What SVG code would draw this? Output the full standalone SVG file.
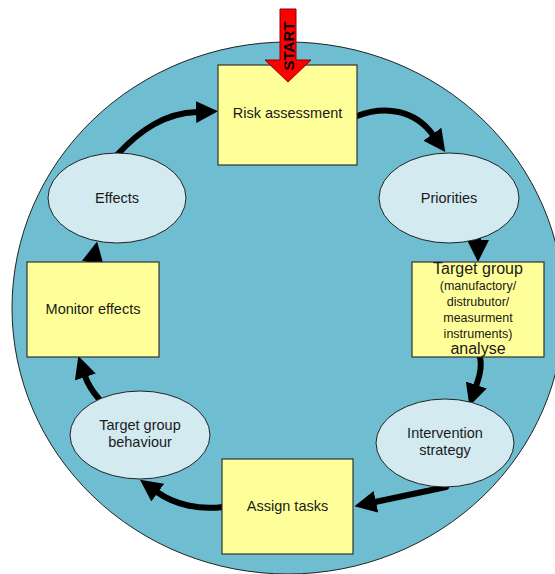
<svg xmlns="http://www.w3.org/2000/svg" width="555" height="574" viewBox="0 0 555 574">
<defs>
<style>
.bg{fill:#6FBDD1;stroke:#222;stroke-width:1}
.box{fill:#FFFF99;stroke:#333;stroke-width:1.2}
.ell{fill:#D2EAF0;stroke:#222;stroke-width:1}
.t{font-family:"Liberation Sans",Arial,sans-serif;font-size:14.5px;fill:#1a1a1a;text-anchor:middle}
.s{font-size:12.5px}
.b{font-size:16px}
.c{fill:none;stroke:#000;stroke-width:6;stroke-linecap:round}
</style>
<marker id="ah" markerUnits="userSpaceOnUse" viewBox="0 0 22 22" markerWidth="22" markerHeight="22" refX="1" refY="11" orient="auto">
<path d="M0,0 L22,11 L0,22 z" fill="#000"/>
</marker>
</defs>
<rect width="555" height="574" fill="#fff"/>
<ellipse class="bg" cx="288" cy="308" rx="276" ry="266"/>

<g id="connectors">
<path class="c" marker-end="url(#ah)" d="M117,155 C140,130 165,113 197,112"/>
<path class="c" marker-end="url(#ah)" d="M357,116 C385,105 415,110 433,135"/>
<path class="c" marker-end="url(#ah)" d="M478,236 L478,241"/>
<path class="c" marker-end="url(#ah)" d="M480,357 C483,370 478,380 476,386"/>
<path class="c" marker-end="url(#ah)" d="M446,487 L375,502"/>
<path class="c" marker-end="url(#ah)" d="M223,507 C200,510 175,505 157,492"/>
<path class="c" marker-end="url(#ah)" d="M99,399 C93,392 88,385 85,376"/>
<path class="c" marker-end="url(#ah)" d="M92,267 L93,262"/>
</g>

<g id="risk">
<rect class="box" x="218" y="65" width="139" height="100"/>
<text class="t" x="287.5" y="118">Risk assessment</text>
</g>

<g id="start">
<path d="M280,9 L296,9 L296,60 L311,60 L288,82 L265,60 L280,60 z" fill="#FF0000" stroke="#8B0000" stroke-width="1"/>
<text x="294" y="46" transform="rotate(-90 294 46)" style="font-family:'Liberation Sans',Arial,sans-serif;font-size:15px;font-weight:bold;fill:#000;text-anchor:middle">START</text>
</g>

<g id="priorities">
<ellipse class="ell" cx="449" cy="198" rx="70" ry="45"/>
<text class="t" x="449" y="203">Priorities</text>
</g>

<g id="targetgroup">
<rect class="box" x="412" y="262" width="132" height="95"/>
<text class="t b" x="478" y="274">Target group</text>
<text class="t s" x="478" y="290">(manufactory/</text>
<text class="t s" x="478" y="306">distrubutor/</text>
<text class="t s" x="478" y="322">measurment</text>
<text class="t s" x="478" y="338">instruments)</text>
<text class="t b" x="478" y="354">analyse</text>
</g>

<g id="intervention">
<ellipse class="ell" cx="445" cy="443" rx="69" ry="44"/>
<text class="t" x="445" y="438">Intervention</text>
<text class="t" x="445" y="455">strategy</text>
</g>

<g id="assign">
<rect class="box" x="222" y="459" width="131" height="95"/>
<text class="t" x="287.5" y="511">Assign tasks</text>
</g>

<g id="behaviour">
<ellipse class="ell" cx="140" cy="435" rx="70" ry="44"/>
<text class="t" x="140" y="430">Target group</text>
<text class="t" x="140" y="447">behaviour</text>
</g>

<g id="monitor">
<rect class="box" x="27" y="262" width="132" height="95"/>
<text class="t" x="93" y="314">Monitor effects</text>
</g>

<g id="effects">
<ellipse class="ell" cx="117" cy="198" rx="69" ry="45"/>
<text class="t" x="117" y="203">Effects</text>
</g>
</svg>
